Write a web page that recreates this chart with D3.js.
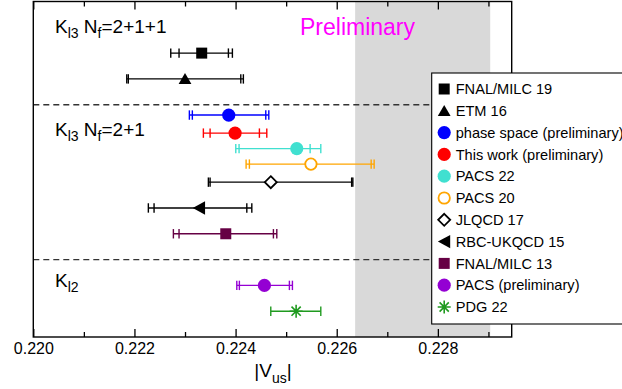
<!DOCTYPE html>
<html>
<head>
<meta charset="utf-8">
<script src="https://cdn.jsdelivr.net/npm/d3@7"></script>
<style>
  body { margin: 0; background: #fff; }
  text { font-family: "Liberation Sans", Arial, sans-serif; }
</style>
</head>
<body>
<div id="chart"></div>
<script>
// data
var names = ["FNAL/MILC 19", "ETM 16", "phase space (preliminary)", "This work (preliminary)",
             "PACS 22", "PACS 20", "JLQCD 17", "RBC-UKQCD 15", "FNAL/MILC 13",
             "PACS (preliminary)", "PDG 22"];
var colors = ["#000000", "#000000", "#0000ff", "#ff0000", "#40e0d0", "#ffa500",
              "#000000", "#000000", "#660044", "#9400d3", "#1f9a1f"];
var symbols = ["square", "triangle", "circle", "circle", "circle", "opencircle",
               "diamond", "lefttriangle", "square", "circle", "asterisk"];
var rows = [11, 10, 8.6, 7.9, 7.3, 6.7, 6, 5, 4, 2, 1];
var centers = [0.22333, 0.22300, 0.223865, 0.22399, 0.22521, 0.22549, 0.224696, 0.223278, 0.223806, 0.22457, 0.225197];
var totalLo = [0.222718, 0.221848, 0.223086, 0.223363, 0.224004, 0.224208, 0.223462, 0.222275, 0.22277, 0.224024, 0.224696];
var totalHi = [0.223937, 0.224154, 0.224657, 0.224617, 0.225685, 0.22674, 0.226319, 0.224321, 0.224815, 0.225124, 0.225685];
var statLo = [0.222882, 0.221879, 0.223145, 0.223496, 0.224069, 0.224273, 0.223496, 0.222388, 0.222882, 0.224075, null];
var statHi = [0.223858, 0.224103, 0.224597, 0.224471, 0.225474, 0.226681, 0.226295, 0.224222, 0.224748, 0.225064, null];

var majorTicks = [0.220, 0.222, 0.224, 0.226, 0.228];
var minorTicks = [0.221, 0.223, 0.225, 0.227, 0.229];
var band = [0.226364, 0.229035];
var separators = [9, 3];

var width = 622, height = 389;
var margin = {left: 33.3, right: 110.3, top: 1.5, bottom: 52};

var svg = d3.select("#chart").append("svg")
    .attr("width", width).attr("height", height);

// scales
var xScale = d3.scaleLinear()
    .domain([0.220, 0.22946])
    .range([margin.left, width - margin.right]);

var yScale = d3.scaleLinear()
    .domain([0, 13])
    .range([height - margin.bottom, margin.top]);

var x0 = xScale.range()[0], x1 = xScale.range()[1];
var yb = yScale.range()[0], yt = yScale.range()[1];

// grey band
svg.append("rect")
    .attr("x", xScale(band[0]))
    .attr("y", yt)
    .attr("width", xScale(band[1]) - xScale(band[0]))
    .attr("height", yb - yt)
    .attr("fill", "#d9d9d9");

// dashed separators
svg.selectAll(".sep")
    .data(separators).enter().append("line")
    .attr("x1", x0).attr("x2", x1)
    .attr("y1", function(d) { return yScale(d); })
    .attr("y2", function(d) { return yScale(d); })
    .attr("stroke", "#333")
    .attr("stroke-width", 1.3)
    .attr("stroke-dasharray", "6,4");

// axes
var xAxis = d3.axisBottom(xScale).tickValues(majorTicks).tickSize(-8).tickPadding(6)
    .tickFormat(d3.format(".3f"));
var gx = svg.append("g").attr("transform", "translate(0," + yb + ")").call(xAxis);
gx.selectAll("text").style("font-size", "16px").attr("fill", "#000");

var gxm = svg.append("g").attr("transform", "translate(0," + yb + ")")
    .call(d3.axisBottom(xScale).tickValues(minorTicks).tickSize(-5).tickFormat(""));

var gt = svg.append("g").attr("transform", "translate(0," + yt + ")")
    .call(d3.axisTop(xScale).tickValues(majorTicks).tickSize(-8).tickFormat(""));
var gtm = svg.append("g").attr("transform", "translate(0," + yt + ")")
    .call(d3.axisTop(xScale).tickValues(minorTicks).tickSize(-5).tickFormat(""));

[gx, gxm, gt, gtm].forEach(function(g) {
    g.select(".domain").remove();
    g.selectAll("line").attr("stroke", "#000").attr("stroke-width", 1.3);
});

// frame
svg.append("rect")
    .attr("x", x0).attr("y", yt)
    .attr("width", x1 - x0).attr("height", yb - yt)
    .attr("fill", "none").attr("stroke", "#000").attr("stroke-width", 1.4);

// axis title |V_us|
var xt = svg.append("text")
    .attr("x", 273).attr("y", 377)
    .attr("text-anchor", "middle")
    .style("font-size", "19px");
xt.append("tspan").text("|V");
xt.append("tspan").attr("dy", 6).style("font-size", "14px").text("us");
xt.append("tspan").attr("dy", -6).text("|");

// group labels
function groupLabel(x, y, parts) {
    var t = svg.append("text").attr("x", x).attr("y", y).style("font-size", "19px");
    parts.forEach(function(p) {
        t.append("tspan")
            .attr("dy", p.dy || 0)
            .style("font-size", p.sub ? "14px" : "19px")
            .text(p.t);
    });
}
groupLabel(55, 33, [{t: "K"}, {t: "l3", sub: true, dy: 5}, {t: " N", dy: -5}, {t: "f", sub: true, dy: 5}, {t: "=2+1+1", dy: -5}]);
groupLabel(55, 136, [{t: "K"}, {t: "l3", sub: true, dy: 5}, {t: " N", dy: -5}, {t: "f", sub: true, dy: 5}, {t: "=2+1", dy: -5}]);
groupLabel(55, 287, [{t: "K"}, {t: "l2", sub: true, dy: 5}]);

svg.append("text")
    .attr("x", 300).attr("y", 35)
    .attr("fill", "#ff00ff")
    .style("font-size", "23px")
    .text("Preliminary");

// marker shapes
function markerPath(type) {
    switch (type) {
        case "square": return "M-5.5,-5.5H5.5V5.5H-5.5Z";
        case "triangle": return "M0,-5.8L6.4,5.2L-6.4,5.2Z";
        case "lefttriangle": return "M-6.3,0L6,-6.7L6,6.7Z";
        case "diamond": return "M0,-6L6,0L0,6L-6,0Z";
        case "asterisk": return "M0,-6.5V6.5M-6.5,0H6.5M-4.6,-4.6L4.6,4.6M-4.6,4.6L4.6,-4.6";
        case "opencircle": return d3.symbol(d3.symbolCircle, Math.PI * 5.7 * 5.7)();
        default: return d3.symbol(d3.symbolCircle, Math.PI * 6.6 * 6.6)();
    }
}
function markerFill(i) {
    var s = symbols[i];
    if (s === "opencircle" || s === "diamond") return "#fff";
    if (s === "asterisk") return "none";
    return colors[i];
}
function markerStrokeWidth(i) {
    var s = symbols[i];
    if (s === "opencircle" || s === "diamond") return 1.8;
    if (s === "asterisk") return 1.6;
    return 0;
}

var data = names.map(function(n, i) { return i; });

// error bars
var eb = svg.selectAll(".eb").data(data).enter().append("g").attr("class", "eb");
eb.append("line")
    .attr("x1", function(i) { return xScale(totalLo[i]); })
    .attr("x2", function(i) { return xScale(totalHi[i]); })
    .attr("y1", function(i) { return yScale(rows[i]); })
    .attr("y2", function(i) { return yScale(rows[i]); })
    .attr("stroke", function(i) { return colors[i]; })
    .attr("stroke-width", 1.4);

var caps = [];
data.forEach(function(i) {
    caps.push({i: i, v: totalLo[i]});
    caps.push({i: i, v: totalHi[i]});
    if (statLo[i] != null) {
        caps.push({i: i, v: statLo[i]});
        caps.push({i: i, v: statHi[i]});
    }
});
svg.selectAll(".cap").data(caps).enter().append("line")
    .attr("class", "cap")
    .attr("x1", function(d) { return xScale(d.v); })
    .attr("x2", function(d) { return xScale(d.v); })
    .attr("y1", function(d) { return yScale(rows[d.i]) - 4.7; })
    .attr("y2", function(d) { return yScale(rows[d.i]) + 4.7; })
    .attr("stroke", function(d) { return colors[d.i]; })
    .attr("stroke-width", 1.4);

// markers
svg.selectAll(".mk").data(data).enter().append("path")
    .attr("class", "mk")
    .attr("transform", function(i) { return "translate(" + xScale(centers[i]) + "," + yScale(rows[i]) + ")"; })
    .attr("d", function(i) { return markerPath(symbols[i]); })
    .attr("fill", function(i) { return markerFill(i); })
    .attr("stroke", function(i) { return colors[i]; })
    .attr("stroke-width", function(i) { return markerStrokeWidth(i); });

// legend
var legX = 431.7, legY = 73, legStep = 21.8;
svg.append("rect")
    .attr("x", legX).attr("y", legY)
    .attr("width", 200).attr("height", 251)
    .attr("fill", "#fff").attr("stroke", "#000").attr("stroke-width", 1.1);

var leg = svg.selectAll(".leg").data(data).enter().append("g")
    .attr("class", "leg")
    .attr("transform", function(i) { return "translate(" + (legX + 12.5) + "," + (legY + 16 + i * legStep) + ")"; });
leg.append("path")
    .attr("d", function(i) { return markerPath(symbols[i]); })
    .attr("fill", function(i) { return markerFill(i); })
    .attr("stroke", function(i) { return colors[i]; })
    .attr("stroke-width", function(i) { return markerStrokeWidth(i); });
leg.append("text")
    .attr("x", 11.5).attr("y", 5.2)
    .style("font-size", "14.6px")
    .text(function(i) { return names[i]; });
</script>
</body>
</html>
